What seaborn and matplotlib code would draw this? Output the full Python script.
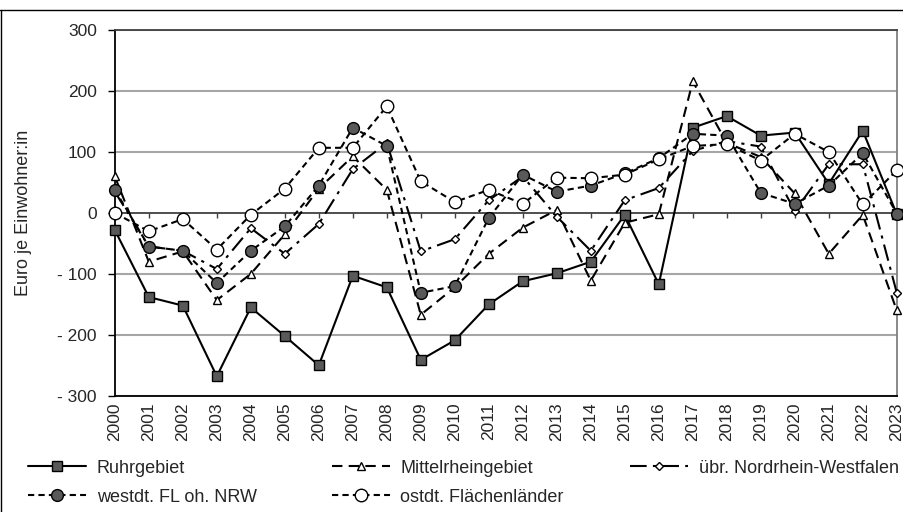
import pandas as pd
import matplotlib.pyplot as plt
import seaborn as sns
from matplotlib.lines import Line2D

years = list(range(2000, 2024))

ruhr = [-28, -138, -152, -268, -155, -202, -250, -103, -122, -241, -209, -150,
        -112, -99, -80, -3, -117, 140, 159, 127, 132, 48, 135, -2]
mittelrhein = [60, -80, -63, -143, -100, -35, 40, 93, 38, -167, -122, -67,
               -24, 5, -111, -16, -2, 216, 115, 92, 32, -67, -3, -160]
nrw_rest = [35, -55, -62, -92, -25, -67, -18, 72, 115, -63, -43, 21,
            60, -6, -62, 21, 41, 102, 118, 109, 3, 80, 80, -131]
westdt = [38, -55, -62, -115, -62, -22, 45, 140, 110, -131, -120, -8,
          63, 35, 45, 65, 90, 130, 127, 33, 15, 45, 98, -1]
ostdt = [0, -30, -10, -60, -3, 40, 107, 107, 175, 52, 18, 38,
         15, 58, 57, 63, 88, 110, 113, 86, 130, 100, 14, 70]

names = ['Ruhrgebiet', 'Mittelrheingebiet', 'übr. Nordrhein-Westfalen',
         'westdt. FL oh. NRW', 'ostdt. Flächenländer']

yticks = [300, 200, 100, 0, -100, -200, -300]
ylabels = ['300', '200', '100', '0', '- 100', '- 200', '- 300']

sns.set_style('white')
plt.rcParams['font.family'] = ['Liberation Sans', 'DejaVu Sans']

fig = plt.figure(figsize=(9.04, 5.12), dpi=100)
ax = fig.add_axes([0.127, 0.227, 0.865, 0.714])

# line styles for each series
styles = {
    'Ruhrgebiet': dict(marker='s', markersize=7, markerfacecolor='#595959', linestyle='-'),
    'Mittelrheingebiet': dict(marker='^', markersize=6, markerfacecolor='white', linestyle=(0, (5, 3))),
    'übr. Nordrhein-Westfalen': dict(marker='D', markersize=4.5, markerfacecolor='white',
                                     linestyle=(0, (8, 3, 1.5, 3))),
    'westdt. FL oh. NRW': dict(marker='o', markersize=8.5, markerfacecolor='#595959', linestyle=(0, (3, 2))),
    'ostdt. Flächenländer': dict(marker='o', markersize=9, markerfacecolor='white', linestyle=(0, (3, 2))),
}

# grid first
for y in yticks:
    if y != 0:
        ax.axhline(y, color='#a6a6a6', lw=1.5, zorder=1)
ax.axhline(0, color='#404040', lw=1.3, zorder=1)
ax.vlines(years, -8, 0, color='#404040', lw=1, zorder=1)

data = [ruhr, mittelrhein, nrw_rest, westdt, ostdt]
for name, vals in zip(names, data):
    sns.lineplot(x=years, y=vals, ax=ax, color='black', linewidth=1.5,
                 markeredgecolor='black', markeredgewidth=1, clip_on=False,
                 label=name, legend=False, zorder=3, **styles[name])

ax.set_xlim(2000, 2023)
ax.set_ylim(-300, 300)
ax.set_xticks(years)
ax.set_xticklabels([str(y) for y in years], rotation=90, fontsize=12.5)
ax.set_yticks(yticks)
ax.set_yticklabels(ylabels, fontsize=12.5)
ax.tick_params(axis='x', length=0, pad=4.5)
ax.tick_params(axis='y', length=5, width=1, color='black', direction='out', left=True, pad=8)
ax.set_ylabel('Euro je Einwohner:in', fontsize=13)
ax.yaxis.set_label_coords(-0.106, 0.5)
ax.set_xlabel('')

for side in ['left', 'bottom']:
    ax.spines[side].set_color('black')
    ax.spines[side].set_linewidth(1.3)
ax.spines['top'].set_color('#404040')
ax.spines['top'].set_linewidth(1.3)
ax.spines['right'].set_color('#808080')
ax.spines['right'].set_linewidth(1.3)

# legend split into three columns
handles = {l.get_label(): l for l in ax.get_lines()}
cols = [(['Ruhrgebiet', 'westdt. FL oh. NRW'], 0.031),
        (['Mittelrheingebiet', 'ostdt. Flächenländer'], 0.367),
        (['übr. Nordrhein-Westfalen'], 0.697)]
for labs, x0 in cols:
    leg = fig.legend([handles[l] for l in labs], labs, loc='upper left',
                     bbox_to_anchor=(x0, 0.102), frameon=False, fontsize=13,
                     handlelength=3.2, handletextpad=0.6, labelspacing=0.65,
                     borderpad=0, borderaxespad=0)

# frame lines of the original graphic
fig.add_artist(Line2D([0, 1], [1 - 10 / 512] * 2, transform=fig.transFigure, color='black', lw=1))
fig.add_artist(Line2D([0.001, 0.001], [0, 1 - 10 / 512], transform=fig.transFigure, color='black', lw=1))

fig.savefig('out.png', dpi=100)
